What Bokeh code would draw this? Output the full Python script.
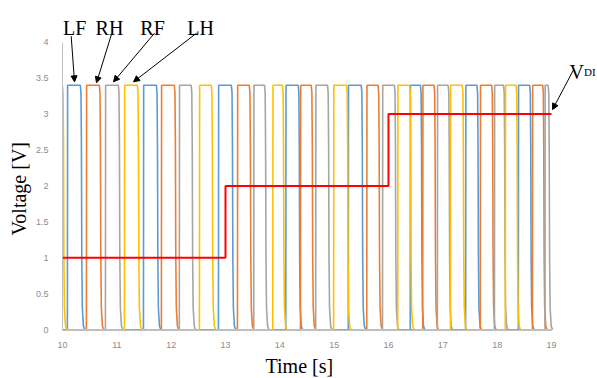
from bokeh.plotting import figure
from bokeh.models import Label, Arrow, NormalHead, FixedTicker, Range1d, Title
from bokeh.embed import file_html
from bokeh.resources import INLINE

# ---------------- data ----------------
x_ticks = [10, 11, 12, 13, 14, 15, 16, 17, 18, 19]
y_ticks = [0, 0.5, 1, 1.5, 2, 2.5, 3, 3.5, 4]
y_tick_labels = ["0", "0.5", "1", "1.5", "2", "2.5", "3", "3.5", "4"]

pulse_level = 3.4

lf_on = [10.09, 11.49, 12.87, 14.11, 15.26, 16.40, 17.42, 18.39]
lf_off = [10.34, 11.74, 13.12, 14.35, 15.51, 16.60, 17.64, 18.61]
rh_on = [10.44, 11.82, 13.22, 14.38, 15.60, 16.63, 17.69, 18.65]
rh_off = [10.69, 12.07, 13.45, 14.59, 15.82, 16.85, 17.91, 18.85]
rf_on = [10.79, 12.15, 13.52, 14.66, 15.89, 16.90, 17.95, 18.88]
rf_off = [11.04, 12.38, 13.73, 14.89, 16.12, 17.11, 18.13, 18.95]
lh_on = [9.80, 11.14, 12.52, 13.87, 14.99, 16.17, 17.14, 18.15]
lh_off = [10.01, 11.39, 12.75, 14.06, 15.24, 16.40, 17.37, 18.36]

vdi_t = [10, 13, 13, 16, 16, 19]
vdi_v = [1, 1, 2, 2, 3, 3]

# ---------------- style ----------------
C_LF, C_RH, C_RF, C_LH = "#5B9BD5", "#ED7D31", "#A5A5A5", "#FFC000"
C_VDI = "#FF0000"
SERIF = "Liberation Serif"
T0, T1 = 10, 19
RISE = 0.004
CORNER = 0.012
FALL_DT = [0.0, 0.008, 0.015, 0.025, 0.045, 0.07]
FALL_F = [0.97, 0.76, 0.30, 0.09, 0.015, 0.0]


def pulse_path(ons, offs):
    xs = [min(T0, ons[0])]
    ys = [0]
    for a, b in zip(ons, offs):
        xs += [a, a + RISE, b - CORNER] + [b + d for d in FALL_DT]
        ys += [0, pulse_level, pulse_level] + [pulse_level * f for f in FALL_F]
    xs.append(max(T1, xs[-1]))
    ys.append(0)
    return xs, ys


W, H = 597, 378
# frame spans from the y-axis (t=10) to the right edge and up to the top edge,
# so that the annotations above / right of the data area are not clipped
p = figure(width=W, height=H, output_backend="svg", toolbar_location=None,
           x_range=Range1d(T0, 19.847), y_range=Range1d(-0.01, 4.579),
           min_border_left=62, min_border_right=0, min_border_top=0,
           min_border_bottom=46)
p.outline_line_color = None
p.xgrid.grid_line_color = None
p.ygrid.grid_line_color = None
p.background_fill_color = "white"
p.border_fill_color = "white"

for ax in (p.xaxis[0], p.yaxis[0]):
    ax.axis_line_color = "#BFBFBF"
    ax.axis_line_width = 1
    ax.major_tick_line_color = None
    ax.minor_tick_line_color = None
    ax.major_label_text_font = "Liberation Sans"
    ax.major_label_text_font_size = "9px"
    ax.major_label_text_color = "#8C8C8C"

p.xaxis.ticker = FixedTicker(ticks=x_ticks)
p.yaxis.ticker = FixedTicker(ticks=y_ticks)
p.xaxis.bounds = (T0, T1)
p.yaxis.bounds = (0, 4)
p.yaxis.major_label_overrides = {t: s for t, s in zip(y_ticks, y_tick_labels)}
p.xaxis.major_label_standoff = 5
p.yaxis.major_label_standoff = 8

for ons, offs, col in ((lf_on, lf_off, C_LF), (rh_on, rh_off, C_RH),
                       (rf_on, rf_off, C_RF), (lh_on, lh_off, C_LH)):
    xs, ys = pulse_path(ons, offs)
    p.line(xs, ys, line_color=col, line_width=1.6)

p.line(vdi_t, vdi_v, line_color=C_VDI, line_width=2)


# ---------- annotations (positions in data units) ----------
def lab(x, y, text, size="20px", align="center"):
    p.add_layout(Label(x=x, y=y, text=text, text_font=SERIF, text_font_size=size,
                       text_align=align, text_baseline="alphabetic",
                       text_color="black"))


lab(10.225, 4.193, "LF")
lab(10.865, 4.193, "RH")
lab(11.657, 4.193, "RF")
lab(12.54, 4.193, "LH")
lab(19.33, 3.586, "V", align="left")
lab(19.60, 3.586, "DI", size="11px", align="left")

for (x0, y0, x1, y1) in ((10.160, 4.083, 10.221, 3.448),
                         (10.902, 4.110, 10.626, 3.434),
                         (11.693, 4.124, 10.939, 3.448),
                         (12.466, 4.124, 11.307, 3.448),
                         (19.405, 3.614, 19.019, 3.062)):
    p.add_layout(Arrow(x_start=x0, y_start=y0, x_end=x1, y_end=y1,
                       line_color="black", line_width=1,
                       end=NormalHead(size=6, fill_color="black", line_color="black")))

p.add_layout(Title(text="Time [s]", align="left", offset=203, standoff=4,
                   text_font=SERIF, text_font_size="20px", text_font_style="normal",
                   text_color="black"), "below")
p.add_layout(Title(text="Voltage [V]", align="left", offset=95, standoff=6,
                   text_font=SERIF, text_font_size="20px", text_font_style="normal",
                   text_color="black"), "left")

open("out.html", "w").write(file_html(p, INLINE))
